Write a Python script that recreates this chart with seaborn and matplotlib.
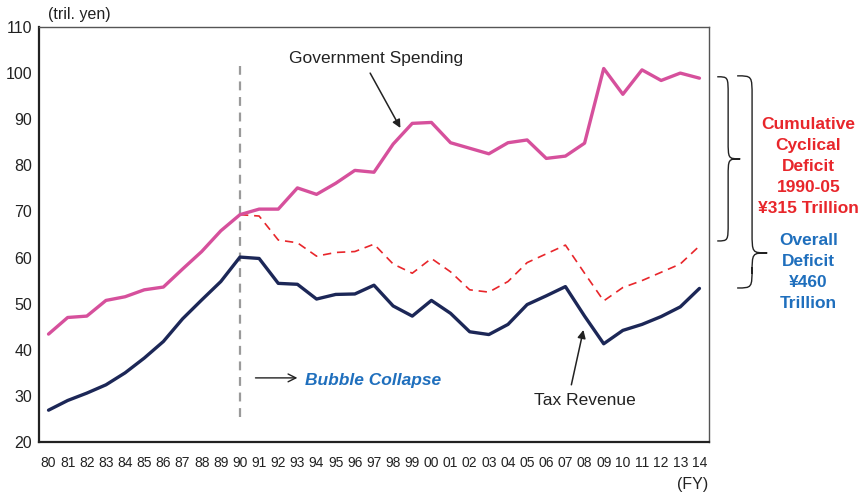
import numpy as np
import pandas as pd
import matplotlib.pyplot as plt
import seaborn as sns
from matplotlib.path import Path
from matplotlib.patches import PathPatch

# ==========================================
# Data (trillion yen, fiscal years 1980-2014)
# ==========================================

years = ["80", "81", "82", "83", "84", "85", "86", "87", "88", "89",
         "90", "91", "92", "93", "94", "95", "96", "97", "98", "99",
         "00", "01", "02", "03", "04", "05", "06", "07", "08", "09",
         "10", "11", "12", "13", "14"]

gov_spending = [43.4, 47.0, 47.3, 50.7, 51.5, 53.0, 53.6, 57.5, 61.3, 65.8,
                69.3, 70.5, 70.5, 75.1, 73.7, 76.1, 78.9, 78.5, 84.6, 89.1,
                89.3, 84.9, 83.7, 82.5, 84.9, 85.5, 81.5, 82.0, 84.8, 101.0,
                95.4, 100.7, 98.4, 100.0, 98.9]

tax_revenue = [26.9, 29.0, 30.6, 32.4, 35.0, 38.2, 41.8, 46.7, 50.8, 54.8,
               60.1, 59.8, 54.4, 54.2, 51.0, 52.0, 52.1, 54.0, 49.5, 47.3,
               50.7, 47.9, 43.9, 43.3, 45.5, 49.8, 51.7, 53.7, 47.3, 41.3,
               44.2, 45.5, 47.2, 49.3, 53.3]

# dashed line starts at the bubble collapse (FY90)
cyclical_years = years[10:]
cyclical_line = [69.3, 69.0, 63.8, 63.2, 60.3, 61.1, 61.3, 62.9, 58.6, 56.6,
                 59.8, 56.9, 53.0, 52.5, 54.8, 58.9, 60.8, 62.7, 56.6, 50.6,
                 53.5, 55.0, 56.8, 58.6, 62.5]

yticks = [20, 30, 40, 50, 60, 70, 80, 90, 100, 110]

PINK = "#d6509c"
NAVY = "#1c2757"
RED = "#e8262b"
BLUE = "#1f6fbd"

# ==========================================
# Build DataFrames
# ==========================================

df = pd.DataFrame({
    "x": np.arange(len(years)),
    "gov": gov_spending,
    "tax": tax_revenue,
})
df_cyc = pd.DataFrame({
    "x": np.arange(len(years) - len(cyclical_years), len(years)),
    "cyc": cyclical_line,
})

# ==========================================
# Plot
# ==========================================

sns.set_style("white")
plt.rcParams['font.family'] = ['Liberation Sans', 'DejaVu Sans']

fig = plt.figure(figsize=(8.64, 4.96), dpi=100)
ax = fig.add_axes([0.0451, 0.1089, 0.7755, 0.8367])

# bubble collapse marker
ax.plot([10, 10], [25.5, 101.5], color="#9a9a9a", lw=1.6,
        dashes=(4, 3), zorder=1)

sns.lineplot(data=df_cyc, x="x", y="cyc", ax=ax, color=RED, lw=1.2,
             zorder=2).lines[-1].set_dashes((5, 3.5))
sns.lineplot(data=df, x="x", y="tax", ax=ax, color=NAVY, lw=2.4, zorder=3)
sns.lineplot(data=df, x="x", y="gov", ax=ax, color=PINK, lw=2.4, zorder=4)

ax.set_xlim(-0.5, len(years) - 0.5)
ax.set_ylim(20, 110)
ax.set_xlabel("")
ax.set_ylabel("")

# x ticks: labels at centers, marks at boundaries
ax.set_xticks(np.arange(len(years)))
ax.set_xticklabels(years)
ax.set_xticks(np.arange(len(years) + 1) - 0.5, minor=True)
ax.tick_params(axis="x", which="major", length=0, pad=10,
               labelsize=10, labelcolor="#222222")
ax.tick_params(axis="x", which="minor", length=8, width=1,
               direction="inout", color="#222222")
ax.set_yticks(yticks)
ax.tick_params(axis="y", length=0, pad=5, labelsize=11.5, labelcolor="#222222")

for side in ["left", "bottom"]:
    ax.spines[side].set_linewidth(1.6)
    ax.spines[side].set_color("#222222")
for side in ["top", "right"]:
    ax.spines[side].set_linewidth(1.0)
    ax.spines[side].set_color("#555555")

# ==========================================
# Annotations
# ==========================================

ax.text(-0.05, 112.6, "(tril. yen)", fontsize=11.5, color="#222222",
        ha="left", va="center", clip_on=False)
ax.text(34.46, 10.7, "(FY)", fontsize=11.5, color="#222222",
        ha="right", va="center", clip_on=False)

ax.text(17.13, 103.1, "Government Spending", fontsize=12.5,
        color="#222222", ha="center", va="center")
ax.annotate("", xy=(18.38, 88.1), xytext=(16.8, 100.0),
            arrowprops=dict(arrowstyle="-|>", color="#222222", lw=1.1,
                            mutation_scale=12, shrinkA=0, shrinkB=0))

ax.text(28.04, 28.9, "Tax Revenue", fontsize=12.5,
        color="#222222", ha="center", va="center")
ax.annotate("", xy=(27.94, 44.3), xytext=(27.31, 32.4),
            arrowprops=dict(arrowstyle="-|>", color="#222222", lw=1.1,
                            mutation_scale=12, shrinkA=0, shrinkB=0))

ax.text(13.42, 33.4, "Bubble Collapse", fontsize=12.5, color=BLUE,
        fontweight="bold", fontstyle="italic", ha="left", va="center")
ax.annotate("", xy=(13.0, 33.9), xytext=(10.81, 33.9),
            arrowprops=dict(arrowstyle="->", color="#222222", lw=1.0,
                            mutation_scale=14, shrinkA=0, shrinkB=0))


def draw_brace(x0, xm, x1, ytop, ytip, ybot, r):
    verts = [
        (x0, ytop),
        (xm, ytop), (xm, ytop), (xm, ytop - r),
        (xm, ytip + r),
        (xm, ytip), (xm, ytip), (x1, ytip),
        (xm, ytip), (xm, ytip), (xm, ytip - r),
        (xm, ybot + r),
        (xm, ybot), (xm, ybot), (x0, ybot),
    ]
    codes = [Path.MOVETO,
             Path.CURVE4, Path.CURVE4, Path.CURVE4,
             Path.LINETO,
             Path.CURVE4, Path.CURVE4, Path.CURVE4,
             Path.CURVE4, Path.CURVE4, Path.CURVE4,
             Path.LINETO,
             Path.CURVE4, Path.CURVE4, Path.CURVE4]
    patch = PathPatch(Path(verts, codes), fill=False, lw=1.0,
                      edgecolor="#222222", clip_on=False)
    ax.add_patch(patch)


draw_brace(34.93, 35.50, 36.13, 99.2, 81.4, 63.6, 4.0)
draw_brace(35.97, 36.75, 37.54, 99.4, 61.0, 53.4, 4.5)

ax.text(39.69, 79.8, "Cumulative\nCyclical\nDeficit\n1990-05\n¥315 Trillion",
        fontsize=12.5, fontweight="bold", color=RED, ha="center",
        va="center", multialignment="center", linespacing=1.5,
        clip_on=False)
ax.text(39.69, 56.9, "Overall\nDeficit\n¥460\nTrillion",
        fontsize=12.5, fontweight="bold", color=BLUE, ha="center",
        va="center", multialignment="center", linespacing=1.5,
        clip_on=False)

plt.savefig("out.png", dpi=100)
